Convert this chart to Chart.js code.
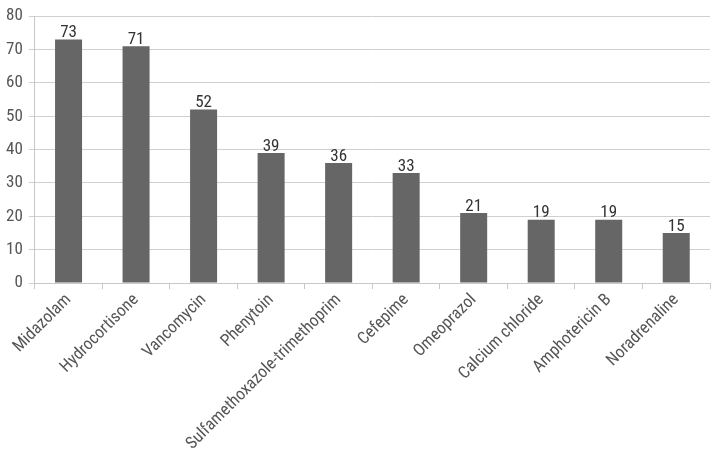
<!DOCTYPE html>
<html>
<head>
<meta charset="utf-8">
<script src="https://cdn.jsdelivr.net/npm/chart.js@4/dist/chart.umd.min.js"></script>
<style>
  html, body { margin: 0; padding: 0; background: #fff; }
  #wrap { width: 713px; height: 454px; }
</style>
</head>
<body>
<div id="wrap"><canvas id="grafica"></canvas></div>
<script>
// drugs and counts
const farmacos = ['Midazolam', 'Hydrocortisone', 'Vancomycin', 'Phenytoin', 'Sulfamethoxazole-trimethoprim',
                  'Cefepime', 'Omeoprazol', 'Calcium chloride', 'Amphotericin B', 'Noradrenaline'];
const cantidades = [73, 71, 52, 39, 36, 33, 21, 19, 19, 15];
const ticksY = [0, 10, 20, 30, 40, 50, 60, 70, 80];

const fuente = "'Liberation Sans Narrow', 'Roboto Condensed', 'Arial Narrow', sans-serif";

// pinta el numero encima de cada barra
const etiquetas = {
    id: 'etiquetas',
    afterDatasetsDraw(chart) {
        const ctx = chart.ctx;
        const meta = chart.getDatasetMeta(0);
        ctx.save();
        ctx.font = "17px " + fuente;
        ctx.fillStyle = '#333';
        ctx.textAlign = 'center';
        ctx.textBaseline = 'bottom';
        meta.data.forEach((barra, i) => {
            ctx.fillText(cantidades[i], barra.x, barra.y + 2);
        });
        ctx.restore();
    }
};

const ctx = document.getElementById('grafica').getContext('2d');
new Chart(ctx, {
    type: 'bar',
    data: {
        labels: farmacos,
        datasets: [{ data: cantidades, backgroundColor: '#666666', borderWidth: 0,
                     barPercentage: 0.4, categoryPercentage: 1 }]
    },
    options: {
        responsive: true,
        maintainAspectRatio: false,
        animation: false,
        layout: { padding: { top: 3, right: 3, left: 0, bottom: 0 } },
        plugins: { legend: { display: false }, tooltip: { enabled: false } },
        scales: {
            x: {
                afterFit: (eje) => { eje.height = 171; },
                grid: { offset: true, drawOnChartArea: false, drawTicks: true, tickLength: 6, color: '#c8c8c8' },
                border: { color: '#c8c8c8' },
                ticks: { minRotation: 45, maxRotation: 45, autoSkip: false, color: '#555',
                         font: { family: fuente, size: 17 }, padding: 1 }
            },
            y: {
                min: ticksY[0], max: ticksY[ticksY.length - 1],
                afterBuildTicks: (eje) => { eje.ticks = ticksY.map(v => ({ value: v })); },
                grid: { color: '#d0d0d0', tickLength: 6 },
                border: { color: '#c8c8c8' },
                ticks: { color: '#555', font: { family: fuente, size: 17 }, padding: 6 }
            }
        }
    },
    plugins: [etiquetas]
});
</script>
</body>
</html>
